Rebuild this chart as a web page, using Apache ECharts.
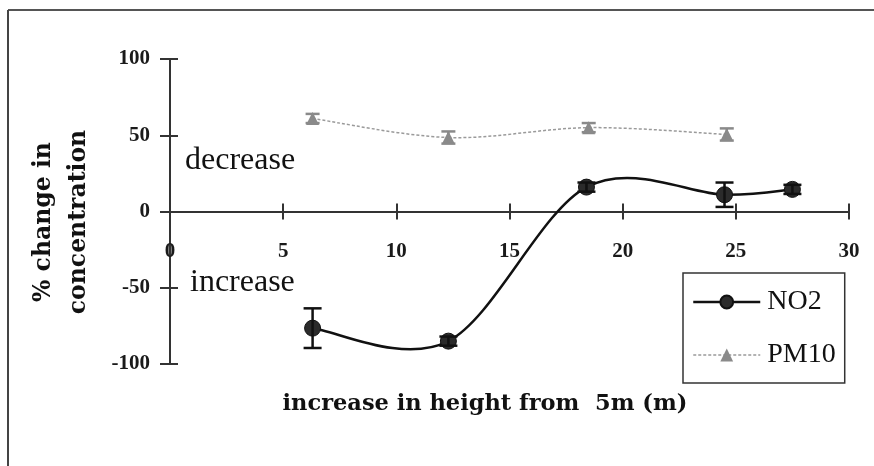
<!DOCTYPE html>
<html>
<head>
<meta charset="utf-8">
<script src="https://cdn.jsdelivr.net/npm/echarts@6/dist/echarts.min.js"></script>
<style>
  html, body { margin: 0; padding: 0; background: #fff; }
  #chart { width: 874px; height: 466px; }
</style>
</head>
<body>
<div id="chart"></div>
<script>
// Height above the 5 m reference level (m) and % change in concentration
const no2Height = [6.3, 12.3, 18.4, 24.5, 27.5];
const no2Change = [-76.5, -85, 16, 11, 14.5];
const no2Error  = [13, 3, 3, 8, 3];

const pm10Height = [6.3, 12.3, 18.5, 24.6];
const pm10Change = [61, 48.5, 55, 50.5];
const pm10Error  = [3, 4, 3, 4];

const xTicks = { min: 0, max: 30, step: 5 };
const yTicks = { min: -100, max: 100, step: 50 };

const serif = '"Liberation Serif", "Times New Roman", serif';
const heavySerif = '"DejaVu Serif", serif';

const pairs = (xs, ys) => xs.map((x, i) => [x, ys[i]]);
const triples = (xs, ys, es) => xs.map((x, i) => [x, ys[i], es[i]]);

// Vertical error bars with caps, positioned through the axis scales
function errorBars(color, capHalf, width) {
  return function (params, api) {
    const x = api.value(0), y = api.value(1), e = api.value(2);
    const top = api.coord([x, y + e]);
    const bot = api.coord([x, y - e]);
    const style = { stroke: color, lineWidth: width };
    return {
      type: 'group',
      children: [
        { type: 'line', shape: { x1: top[0], y1: top[1], x2: bot[0], y2: bot[1] }, style },
        { type: 'line', shape: { x1: top[0] - capHalf, y1: top[1], x2: top[0] + capHalf, y2: top[1] }, style },
        { type: 'line', shape: { x1: bot[0] - capHalf, y1: bot[1], x2: bot[0] + capHalf, y2: bot[1] }, style }
      ]
    };
  };
}

// Spreadsheet-style smoothed line: one cubic Bezier per segment with
// Catmull-Rom control points (may overshoot between points)
function smoothCurve(xs, ys, style) {
  return function (params, api) {
    const i = params.dataIndex;
    if (i >= xs.length - 1) return null;
    const clampIdx = k => Math.max(0, Math.min(xs.length - 1, k));
    const pt = k => api.coord([xs[clampIdx(k)], ys[clampIdx(k)]]);
    const p0 = pt(i - 1), p1 = pt(i), p2 = pt(i + 1), p3 = pt(i + 2);
    const c1 = [p1[0] + (p2[0] - p0[0]) / 6, p1[1] + (p2[1] - p0[1]) / 6];
    const c2 = [p2[0] - (p3[0] - p1[0]) / 6, p2[1] - (p3[1] - p1[1]) / 6];
    return {
      type: 'bezierCurve',
      shape: { x1: p1[0], y1: p1[1], cpx1: c1[0], cpy1: c1[1], cpx2: c2[0], cpy2: c2[1], x2: p2[0], y2: p2[1] },
      style: Object.assign({ fill: null }, style)
    };
  };
}

const axisColor = '#333';
const tickLabel = { color: '#1a1a1a', fontFamily: serif, fontWeight: 'bold', fontSize: 21 };

const no2LineStyle = { color: '#111', width: 2.5 };
const pm10LineStyle = { color: '#9a9a9a', width: 1.5, type: [3, 2] };

// Plot box: y spans -100..100, so the zero line sits half way down
const gridTop = 59, gridBottom = 102, chartH = 466;
const plotH = chartH - gridTop - gridBottom;
const zeroShift = plotH / 2;
const gridLeft = 170, gridRight = 25, chartW = 874;
const plotW = chartW - gridLeft - gridRight;

const chart = echarts.init(document.getElementById('chart'), null, { renderer: 'canvas' });
chart.setOption({
  backgroundColor: '#fff',
  animation: false,
  grid: { left: gridLeft, right: gridRight, top: gridTop, bottom: gridBottom, containLabel: false },
  xAxis: [
    {
      type: 'value', min: xTicks.min, max: xTicks.max, interval: xTicks.step,
      position: 'bottom', offset: -zeroShift,
      axisLine: { onZero: false, lineStyle: { color: axisColor, width: 2 } },
      axisTick: { show: true, length: 8, lineStyle: { color: axisColor, width: 2 } },
      axisLabel: Object.assign({ margin: 30 }, tickLabel),
      splitLine: { show: false }
    },
    {
      type: 'value', min: xTicks.min, max: xTicks.max, interval: xTicks.step,
      position: 'top', offset: -zeroShift,
      axisLine: { onZero: false, lineStyle: { color: axisColor, width: 2 } },
      axisTick: { show: true, length: 8, lineStyle: { color: axisColor, width: 2 } },
      axisLabel: { show: false },
      splitLine: { show: false }
    }
  ],
  yAxis: [
    {
      type: 'value', min: yTicks.min, max: yTicks.max, interval: yTicks.step,
      position: 'left',
      axisLine: { show: true, onZero: false, lineStyle: { color: axisColor, width: 2 } },
      axisTick: { show: true, length: 10, lineStyle: { color: axisColor, width: 2 } },
      axisLabel: Object.assign({ margin: 20 }, tickLabel),
      splitLine: { show: false }
    },
    {
      type: 'value', min: yTicks.min, max: yTicks.max, interval: yTicks.step,
      position: 'right', offset: -plotW,
      axisLine: { show: true, onZero: false, lineStyle: { color: axisColor, width: 2 } },
      axisTick: { show: true, length: 8, lineStyle: { color: axisColor, width: 2 } },
      axisLabel: { show: false },
      splitLine: { show: false }
    }
  ],
  legend: {
    orient: 'vertical',
    left: 683, top: 273,
    padding: [15, 9, 14, 9],
    itemGap: 25,
    itemWidth: 67, itemHeight: 16,
    borderColor: '#333', borderWidth: 1.5,
    backgroundColor: '#fff',
    textStyle: { fontFamily: serif, fontSize: 28, color: '#111', padding: [0, 0, 0, 2] },
    data: [
      { name: 'NO2', lineStyle: Object.assign({ opacity: 1 }, no2LineStyle) },
      { name: 'PM10', lineStyle: Object.assign({ opacity: 1 }, pm10LineStyle) }
    ]
  },
  graphic: [
    { type: 'line', shape: { x1: 8, y1: 10, x2: 874, y2: 10 }, style: { stroke: '#555', lineWidth: 2 } },
    { type: 'line', shape: { x1: 8, y1: 10, x2: 8, y2: 466 }, style: { stroke: '#444', lineWidth: 2 } },
    { type: 'text', left: 185, top: 145, style: { text: 'decrease', fontFamily: serif, fontSize: 32, fill: '#111' } },
    { type: 'text', left: 190, top: 267, style: { text: 'increase', fontFamily: serif, fontSize: 32, fill: '#111' } },
    {
      type: 'text', x: 61, y: 222, rotation: Math.PI / 2,
      style: {
        text: '% change in\nconcentration', fontFamily: heavySerif, fontWeight: 'bold',
        fontSize: 23.5, lineHeight: 35, fill: '#111', align: 'center', verticalAlign: 'middle'
      }
    },
    {
      type: 'text', x: 485, y: 404,
      style: {
        text: 'increase in height from  5m (m)', fontFamily: heavySerif, fontWeight: 'bold',
        fontSize: 22.5, fill: '#111', align: 'center', verticalAlign: 'middle'
      }
    }
  ],
  series: [
    {
      type: 'custom', name: 'PM10 curve',
      data: pairs(pm10Height, pm10Change),
      renderItem: smoothCurve(pm10Height, pm10Change, { stroke: '#9a9a9a', lineWidth: 1.5, lineDash: [3, 2] }),
      z: 2, silent: true
    },
    {
      name: 'PM10', type: 'line',
      data: pairs(pm10Height, pm10Change),
      symbol: 'triangle', symbolSize: 13,
      itemStyle: { color: '#8a8a8a' },
      lineStyle: Object.assign({ opacity: 0 }, pm10LineStyle),
      z: 3
    },
    {
      type: 'custom', name: 'PM10 error',
      data: triples(pm10Height, pm10Change, pm10Error),
      renderItem: errorBars('#8a8a8a', 7, 2.5),
      z: 4, silent: true
    },
    {
      type: 'custom', name: 'NO2 curve',
      data: pairs(no2Height, no2Change),
      renderItem: smoothCurve(no2Height, no2Change, { stroke: '#111', lineWidth: 2.5 }),
      z: 4, silent: true
    },
    {
      name: 'NO2', type: 'line',
      data: pairs(no2Height, no2Change),
      symbol: 'circle', symbolSize: 16,
      itemStyle: { color: '#2b2b2b', borderColor: '#111', borderWidth: 1 },
      lineStyle: Object.assign({ opacity: 0 }, no2LineStyle),
      z: 5
    },
    {
      type: 'custom', name: 'NO2 error',
      data: triples(no2Height, no2Change, no2Error),
      renderItem: errorBars('#111', 9, 2.5),
      z: 6, silent: true
    }
  ]
});
</script>
</body>
</html>
